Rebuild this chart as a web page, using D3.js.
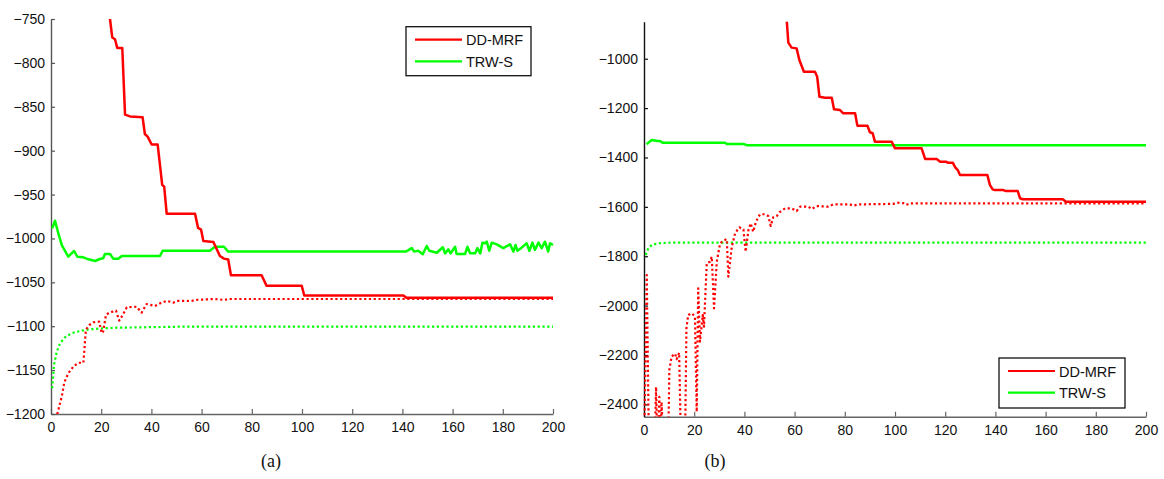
<!DOCTYPE html>
<html>
<head>
<meta charset="utf-8">
<script src="https://cdn.jsdelivr.net/npm/d3@7/dist/d3.min.js"></script>
<style>
  html, body { margin: 0; padding: 0; background: #fff; }
  svg { display: block; }
  .tick text { font-family: "Liberation Sans", Arial, sans-serif; font-size: 14px; fill: #111; }
</style>
</head>
<body>
<svg id="fig" width="1164" height="479"></svg>
<script>
// Shared tick labels
const iterTicks = [0, 20, 40, 60, 80, 100, 120, 140, 160, 180, 200];
const energyTicksA = [-1200, -1150, -1100, -1050, -1000, -950, -900, -850, -800, -750];
const energyTicksB = [-2400, -2200, -2000, -1800, -1600, -1400, -1200, -1000];
const methods = ["DD-MRF", "TRW-S"];
const captions = ["(a)", "(b)"];

// Panel (a): [iteration, energy]
const ddPrimalA = [[18, -690], [23.5, -750], [24.4, -771], [25.5, -773], [26.4, -783], [28.4, -783], [29.5, -859],
  [31.5, -861], [36.5, -862], [37.4, -881], [38.5, -884], [40.1, -893], [42.5, -893], [44.3, -939], [45.1, -941],
  [46.1, -972], [57.4, -972], [58.6, -988], [59.8, -990], [60.7, -1003], [64.7, -1004], [67.3, -1020],
  [68.9, -1023], [70.6, -1024], [71.7, -1042], [83.9, -1042], [85.9, -1054], [99.9, -1054], [100.9, -1065],
  [140.4, -1065], [141.6, -1067.6], [200, -1067.6]];
const ddDualA = [[0.5, -1260], [2.5, -1200], [4.3, -1180], [5.3, -1164], [6.9, -1153.6], [8.9, -1146],
  [10.9, -1141.6], [12.9, -1141.6], [13.9, -1104], [15.3, -1098.6], [16.9, -1095.5], [19.2, -1094.8],
  [20.2, -1108], [20.8, -1106], [21.9, -1087], [23.2, -1084.6], [25.9, -1082.3], [27.2, -1093.7], [28.6, -1087],
  [30.2, -1078.4], [34.1, -1077.8], [36.1, -1084.6], [38.1, -1074.7], [41.4, -1077], [43.4, -1074],
  [46.1, -1071], [48.7, -1073.2], [50.7, -1071], [56, -1071.3], [57.4, -1070], [65.3, -1069], [68.9, -1070],
  [71.3, -1069], [200, -1069]];
const trwPrimalA = [[0.5, -988.5], [1.6, -979.8], [2.9, -994], [4.3, -1007.5], [6.9, -1020.8], [8.2, -1017],
  [9.2, -1014.3], [10.5, -1020.8], [12.9, -1021.5], [14.9, -1023.8], [17.5, -1025.7], [19.5, -1023.4],
  [20.8, -1022.6], [21.5, -1017.7], [23.5, -1017.7], [24.8, -1023], [26.8, -1023], [28.2, -1020], [43.4, -1020],
  [44.5, -1014], [63.3, -1014], [65.3, -1009.5], [68.9, -1009.5], [70.6, -1015], [140.3, -1015], [141.4, -1015],
  [143.7, -1011], [144.7, -1015], [146.3, -1014], [148.1, -1018], [149.7, -1008.6], [150.7, -1014],
  [153.7, -1016.3], [156.1, -1010], [157, -1017], [158.3, -1012.5], [159.2, -1017], [161, -1009.5],
  [161.6, -1017.7], [165, -1017.7], [165.9, -1009.5], [167, -1017], [169, -1017], [169.9, -1011], [171, -1017],
  [171.9, -1004.8], [172.9, -1005.5], [173.6, -1003.7], [174.6, -1014], [175.6, -1004.8], [177.6, -1006.7],
  [180.2, -1011], [182.9, -1006.7], [184.2, -1015], [185.1, -1007.5], [185.8, -1014], [187.5, -1010.5],
  [189.5, -1005.5], [190.6, -1014], [191.8, -1004.8], [192.8, -1013], [194.2, -1004.8], [195.5, -1011],
  [196.8, -1003.7], [198.1, -1015], [198.8, -1005.5], [200, -1007.5]];
const trwDualA = [[0.5, -1170.7], [1.2, -1144], [2.3, -1129], [3.6, -1119.5], [5.6, -1112.6], [8.2, -1108],
  [11.6, -1105.4], [15.5, -1103.5], [20.8, -1102.4], [26.2, -1101.7], [52.7, -1100.5], [200, -1100.5]];

// Panel (b): [iteration, energy]
const ddPrimalB = [[52, -700], [56.9, -850], [57.5, -935], [58.8, -955], [60.8, -958], [61.9, -1005],
  [63.7, -1052.5], [68.1, -1052.5], [69, -1073], [69.9, -1154], [72.1, -1158], [74.8, -1158], [75.7, -1205],
  [78.1, -1208], [79.4, -1221], [84.1, -1221], [85, -1271], [89, -1271], [90, -1298], [91.1, -1302],
  [92, -1336], [98.7, -1336], [100, -1363], [110.6, -1363], [112, -1406], [116.6, -1406], [118, -1417],
  [120.3, -1417], [121, -1421], [123, -1421], [124, -1440], [125, -1451], [125.9, -1471], [136.8, -1471],
  [137.8, -1511], [138.9, -1529], [139.8, -1532], [143.2, -1532], [144.2, -1536], [148.9, -1536],
  [149.8, -1565], [150.9, -1569], [166.8, -1569], [168.1, -1579], [200, -1579]];
const ddDualB = [[0, -2600], [1.1, -1876], [2, -2600], [4.2, -2600], [4.8, -2330], [5.4, -2600],
  [6.1, -2370], [6.6, -2600], [7, -2390], [7.8, -2600], [9.6, -2600], [10.1, -2260], [11, -2206],
  [12.4, -2195], [13, -2217], [14, -2191], [14.8, -2600], [15.8, -2600], [16.5, -2436], [16.9, -2092],
  [17.6, -2038], [19, -2031], [20.3, -2045], [21, -2430], [21.6, -1930], [22.3, -2146], [23.4, -2038],
  [23.9, -2085], [25, -1828], [26.3, -1822], [27, -1802], [27.9, -2011], [29, -1822], [30.3, -1748],
  [31.6, -1737], [33, -1731], [33.6, -1883], [35, -1761], [36.3, -1707], [38, -1683], [39.6, -1691],
  [40.5, -1782], [41.6, -1694], [42.5, -1667], [43.5, -1701], [44.6, -1660], [46.2, -1630], [48.2, -1630],
  [49.5, -1637], [50.5, -1677], [51.5, -1642], [52.9, -1637], [54.2, -1620], [56.2, -1606], [58.8, -1606],
  [60.8, -1617], [62.2, -1599], [65.5, -1599], [66.8, -1609], [68.8, -1597], [73.4, -1599], [75.4, -1590],
  [82, -1590], [83.4, -1595], [85.4, -1590], [99.3, -1588], [100.7, -1583], [103.3, -1585], [104.4, -1592],
  [106, -1586], [200, -1586]];
const trwPrimalB = [[1.1, -1346.6], [1.7, -1340], [3.1, -1329], [5.3, -1333], [6.4, -1333], [7.4, -1340],
  [32.3, -1340], [33, -1345], [39.6, -1345], [40.9, -1350], [200, -1350]];
const trwDualB = [[0.7, -1795], [1.7, -1768], [3.1, -1754.5], [5.8, -1747.6], [10.4, -1745], [200, -1745]];

const RED = "#ff0000", GREEN = "#00ff00";

const svg = d3.select("#fig");

function panel(cfg) {
  const x = d3.scaleLinear().domain([0, 200]).range([cfg.left, cfg.right]);
  const y = d3.scaleLinear().domain(cfg.yDomain).range([cfg.bottom, cfg.top]);
  const g = svg.append("g");

  const clipId = "clip-" + cfg.id;
  g.append("clipPath").attr("id", clipId).append("rect")
    .attr("x", cfg.left - 2).attr("y", cfg.top).attr("width", cfg.right - cfg.left + 4)
    .attr("height", cfg.bottom - cfg.top);

  // Axes: inward ticks, no surrounding box
  const xAxis = d3.axisBottom(x).tickValues(iterTicks).tickSizeInner(-5).tickSizeOuter(0).tickPadding(8);
  const gx = g.append("g").attr("transform", `translate(0,${cfg.bottom})`).call(xAxis);
  gx.select(".domain").attr("stroke", cfg.xAxisColor).attr("stroke-width", 1.4);
  gx.selectAll(".tick line").attr("stroke", cfg.xAxisColor).attr("stroke-width", 1.2);

  const yAxis = d3.axisLeft(y).tickValues(cfg.yTicks).tickSizeInner(-4).tickSizeOuter(0).tickPadding(10)
    .tickFormat(d3.format("d"));
  const gy = g.append("g").attr("transform", `translate(${cfg.left},0)`).call(yAxis);
  gy.select(".domain").attr("stroke", cfg.yAxisColor).attr("stroke-width", 1.4);
  gy.selectAll(".tick line").attr("stroke", cfg.yAxisColor).attr("stroke-width", 1.2);
  gy.selectAll(".tick text").attr("x", -6);
  gx.selectAll(".tick text").attr("fill", "#111");
  svg.selectAll(".tick text").style("font-family", '"Liberation Sans", Arial, sans-serif').style("font-size", "14px");

  const line = d3.line().x(d => x(d[0])).y(d => y(d[1]));
  const plot = g.append("g").attr("clip-path", `url(#${clipId})`);
  const series = [
    { data: cfg.trwDual, color: GREEN, dotted: true },
    { data: cfg.ddDual, color: RED, dotted: true },
    { data: cfg.trwPrimal, color: GREEN, dotted: false },
    { data: cfg.ddPrimal, color: RED, dotted: false }
  ];
  series.forEach(s => {
    plot.append("path").datum(s.data).attr("d", line)
      .attr("fill", "none").attr("stroke", s.color)
      .attr("stroke-width", s.dotted ? 2.2 : 2.5)
      .attr("stroke-linejoin", "round")
      .attr("stroke-dasharray", s.dotted ? "2.2,2.6" : null);
  });

  // Legend
  const L = cfg.legend;
  const lg = g.append("g");
  lg.append("rect").attr("x", L.x).attr("y", L.y).attr("width", L.w).attr("height", L.h)
    .attr("fill", "#fff").attr("stroke", "#111").attr("stroke-width", 1.3);
  methods.forEach((m, i) => {
    const yy = L.y + 13 + i * 21.7;
    lg.append("line").attr("x1", L.x + 9).attr("x2", L.x + 56).attr("y1", yy).attr("y2", yy)
      .attr("stroke", i === 0 ? RED : GREEN).attr("stroke-width", 2.2);
    lg.append("text").attr("x", L.x + 60).attr("y", yy + 5.5).text(m)
      .attr("font-family", '"Liberation Sans", Arial, sans-serif').attr("font-size", 14.5).attr("fill", "#111");
  });

  svg.append("text").attr("x", cfg.captionX).attr("y", 467).attr("text-anchor", "middle")
    .attr("font-family", '"Liberation Serif", "Times New Roman", serif').attr("font-size", 18)
    .attr("fill", "#111").text(cfg.caption);
}

panel({
  id: "a", left: 51, right: 553, top: 19, bottom: 414, yDomain: [-1200, -750], yTicks: energyTicksA,
  xAxisColor: "#666", yAxisColor: "#555",
  ddPrimal: ddPrimalA, ddDual: ddDualA, trwPrimal: trwPrimalA, trwDual: trwDualA,
  legend: { x: 406, y: 26.7, w: 125, h: 49 }, caption: captions[0], captionX: 271
});

panel({
  id: "b", left: 644, right: 1146, top: 21.7, bottom: 416.7, yDomain: [-2450, -850], yTicks: energyTicksB,
  xAxisColor: "#666", yAxisColor: "#111",
  ddPrimal: ddPrimalB, ddDual: ddDualB, trwPrimal: trwPrimalB, trwDual: trwDualB,
  legend: { x: 999, y: 358, w: 126, h: 50 }, caption: captions[1], captionX: 715
});
</script>
</body>
</html>
